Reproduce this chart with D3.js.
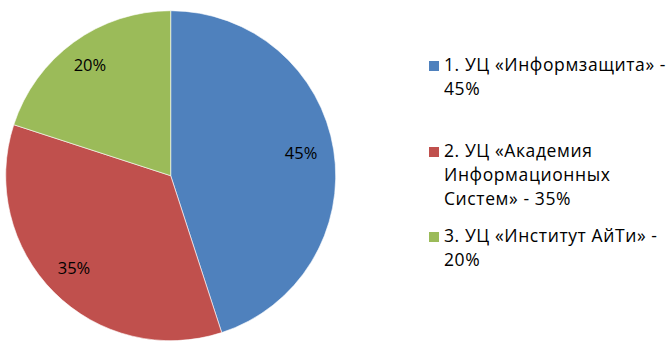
<!DOCTYPE html>
<html><head><meta charset="utf-8">
<script src="https://cdn.jsdelivr.net/npm/d3@7"></script>
<style>body{margin:0;background:#fff}</style>
</head><body>
<svg id="c" width="666" height="348"></svg>
<script>
const categories = ["1. УЦ «Информзащита» - 45%", "2. УЦ «Академия Информационных Систем» - 35%", "3. УЦ «Институт АйТи» - 20%"];
const legendLines = [["1. УЦ «Информзащита» -", "45%"], ["2. УЦ «Академия", "Информационных", "Систем» - 35%"], ["3. УЦ «Институт АйТи» -", "20%"]];
const values = [45, 35, 20];
const labels = ["45%", "35%", "20%"];
const colors = ["#4F81BD", "#C0504D", "#9BBB59"];

const svg = d3.select("#c");
const font = "'Open Sans', sans-serif";
const cx = 170.7, cy = 175.7, r = 165;
const g = svg.append("g").attr("transform", `translate(${cx},${cy})`);
const pie = d3.pie().sort(null).value(d => d);
const arcs = pie(values);
const arc = d3.arc().innerRadius(0).outerRadius(r);
const labelArc = d3.arc().innerRadius(134).outerRadius(134);
g.selectAll("path").data(arcs).join("path")
  .attr("d", arc).attr("fill", (d, i) => colors[i])
  .attr("stroke", "#fff").attr("stroke-width", 0.6);
g.selectAll("text").data(arcs).join("text")
  .attr("x", d => labelArc.centroid(d)[0] - 2)
  .attr("y", d => labelArc.centroid(d)[1] + 4)
  .attr("text-anchor", "middle")
  .attr("font-family", font).attr("font-size", 16.5).attr("fill", "#000")
  .text((d, i) => labels[i]);

const groupTops = [71, 157, 242];
const lg = svg.append("g");
legendLines.forEach((lines, i) => {
  lg.append("rect").attr("x", 429).attr("y", groupTops[i] - 10)
    .attr("width", 10).attr("height", 10).attr("fill", colors[i]);
  const t = lg.append("text").attr("font-family", font).attr("font-size", 17.5)
    .attr("letter-spacing", 0.6).attr("fill", "#000");
  lines.forEach((ln, j) => {
    t.append("tspan").attr("x", 444).attr("y", groupTops[i] + j * 24).text(ln);
  });
});
</script>
</body></html>
